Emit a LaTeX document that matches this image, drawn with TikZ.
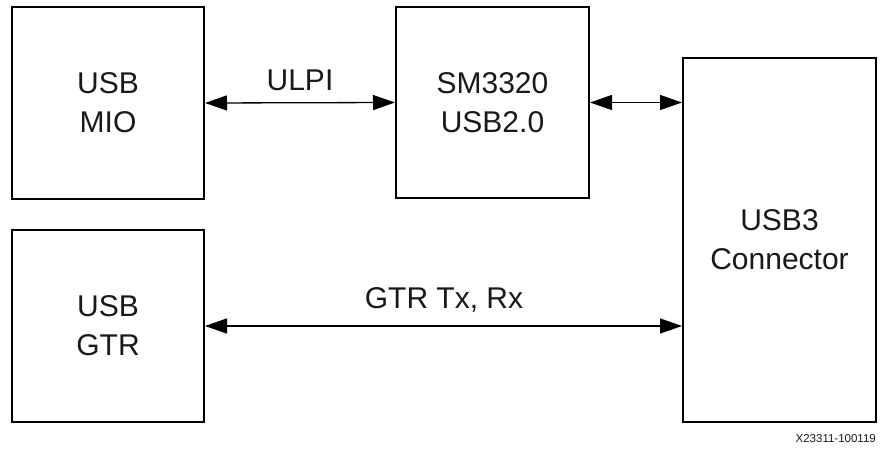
\documentclass[tikz,border=0pt]{standalone}
\usepackage{fontspec}
\setmainfont{Liberation Sans}
\usetikzlibrary{arrows.meta}
\begin{document}
\begin{tikzpicture}[x=1pt,y=-1pt,
  blk/.style={draw=black, line width=2pt, minimum width=192pt, inner sep=0pt, align=center,
    font=\fontsize{30}{39}\selectfont, text=black!90},
  link/.style={line width=1.3pt, {Triangle[length=22pt,width=15pt]}-{Triangle[length=22pt,width=15pt]}},
  lbl/.style={font=\fontsize{30}{39}\selectfont, text=black!90, inner sep=0pt}]
\useasboundingbox (0,0) rectangle (882,449);
\node[blk, minimum height=192pt] (mio) at (108,103) {USB\\MIO};
\node[blk, minimum height=191pt, minimum width=193pt] (sm) at (492.5,102.5) {SM3320\\USB2.0};
\node[blk, minimum height=364pt, minimum width=193pt] (conn) at (779.5,240) {USB3\\Connector};
\node[blk, minimum height=192pt] (gtr) at (108,326) {USB\\GTR};
\draw[link] (mio.east) -- (sm.west);
\draw[link] (sm.east) -- (sm.east -| conn.west);
\draw[link] (gtr.east) -- (gtr.east -| conn.west);
\node[lbl] (ulpi) at (300,80) {ULPI};
\node[lbl] (gtrl) at (444,300) {GTR Tx, Rx};
\node[font=\fontsize{11.5}{13}\selectfont, text=black!90, anchor=east, inner sep=0pt] (id) at (876,439) {X23311-100119};
\end{tikzpicture}
\end{document}
